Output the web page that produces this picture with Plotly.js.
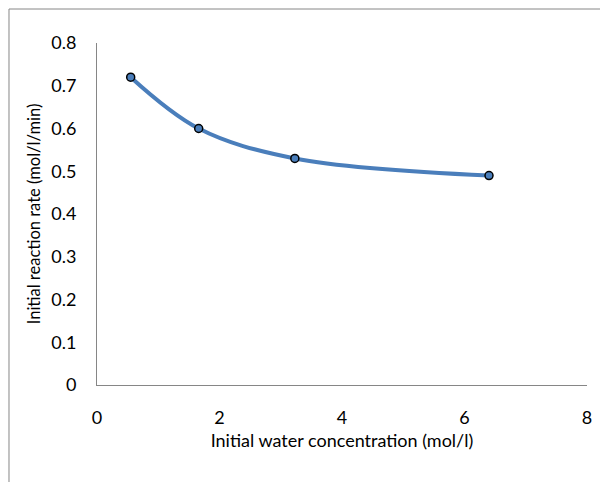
<!DOCTYPE html>
<html>
<head>
<meta charset="utf-8">
<script src="https://cdn.plot.ly/plotly-3.0.1.min.js"></script>
<style>html,body{margin:0;padding:0;background:#fff;}#chart{width:600px;height:482px;}</style>
</head>
<body>
<div id="chart"></div>
<script>
const waterConc = [0.55, 1.66, 3.23, 6.40];
const reactionRate = [0.72, 0.60, 0.53, 0.49];
const xTicks = [0, 2, 4, 6, 8];
const yTicks = [0, 0.1, 0.2, 0.3, 0.4, 0.5, 0.6, 0.7, 0.8];

const font = {family: 'Lato, "Open Sans", sans-serif', size: 18, color: '#000'};
const yTitleFont = {family: 'Lato, "Open Sans", sans-serif', size: 16.5, color: '#000'};
const trace = {
  x: waterConc, y: reactionRate, type: 'scatter', mode: 'lines+markers',
  line: {color: '#4A7EBB', width: 4, shape: 'spline', smoothing: 1},
  marker: {symbol: 'circle', size: 8, color: '#4A7EBB', line: {color: '#000', width: 1.5}},
  hoverinfo: 'none'
};
const layout = {
  width: 600, height: 482,
  margin: {l: 97, r: 13, t: 43, b: 97},
  paper_bgcolor: '#fff', plot_bgcolor: '#fff',
  showlegend: false,
  font: font,
  xaxis: {
    range: [0, 8], tickvals: xTicks, ticktext: xTicks.map(String),
    showgrid: false, zeroline: false, showline: true, linecolor: '#868686', linewidth: 1,
    ticks: '', ticklen: 0, tickfont: font, ticklabelstandoff: 16,
    title: {text: 'Initial water concentration (mol/l)', font: font, standoff: 7}
  },
  yaxis: {
    range: [0, 0.8], tickvals: yTicks, ticktext: yTicks.map(v => v === 0 ? '0' : v.toFixed(1)),
    showgrid: false, zeroline: false, showline: true, linecolor: '#868686', linewidth: 1,
    ticks: '', ticklen: 0, tickfont: font, ticklabelstandoff: 16,
    title: {text: 'Initial reaction rate (mol/l/min)', font: yTitleFont, standoff: 6}
  },
  shapes: [
    {type: 'line', xref: 'paper', yref: 'paper', x0: -0.1796, x1: -0.1796, y0: 1.0994, y1: -0.3, line: {color: '#868686', width: 1}},
    {type: 'line', xref: 'paper', yref: 'paper', x0: -0.1796, x1: 1.1, y0: 1.0994, y1: 1.0994, line: {color: '#868686', width: 1}}
  ]
};
Plotly.newPlot('chart', [trace], layout, {staticPlot: true, displayModeBar: false});
</script>
</body>
</html>
